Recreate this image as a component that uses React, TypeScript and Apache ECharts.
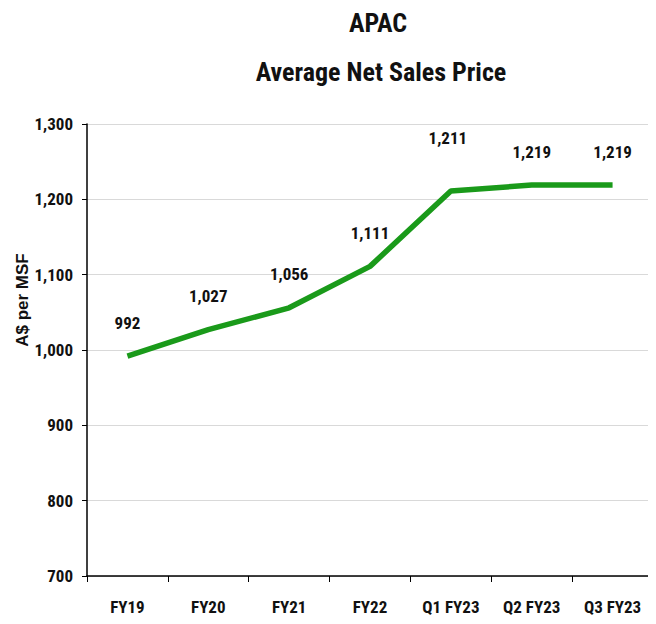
import React, { useEffect, useRef } from "react";
import * as echarts from "echarts";

const categories = ["FY19", "FY20", "FY21", "FY22", "Q1 FY23", "Q2 FY23", "Q3 FY23"];
const values = [992, 1027, 1056, 1111, 1211, 1219, 1219];
const titleLines = ["APAC", "Average Net Sales Price"];
const yAxisName = "A$ per MSF";

const FONT = "'Liberation Sans Narrow', 'Roboto Condensed', 'Open Sans', sans-serif";

export default function App() {
  const ref = useRef<HTMLDivElement>(null);
  useEffect(() => {
    if (!ref.current) return;
    const chart = echarts.init(ref.current, null, { renderer: "svg" });
    chart.setOption({
      animation: false,
      backgroundColor: "#fff",
      title: [
        {
          text: titleLines[0],
          left: 373,
          top: 5,
          textAlign: "center",
          textStyle: { fontFamily: FONT, fontWeight: "bold", fontSize: 26, color: "#111" },
        },
        {
          text: titleLines[1],
          left: 376,
          top: 54,
          textAlign: "center",
          textStyle: { fontFamily: FONT, fontWeight: "bold", fontSize: 26, color: "#111" },
        },
      ],
      graphic: [
        {
          type: "text",
          x: 22,
          y: 300,
          rotation: Math.PI / 2,
          style: {
            text: yAxisName,
            fontFamily: "'Liberation Sans', Arial, sans-serif",
            fontWeight: "bold",
            fontSize: 17,
            fill: "#111",
            align: "center",
            verticalAlign: "middle",
          },
        },
      ],
      grid: { left: 87, right: 3, top: 124, bottom: 48, containLabel: false },
      xAxis: {
        type: "category",
        data: categories,
        boundaryGap: true,
        axisLine: { lineStyle: { color: "#000", width: 1.5 } },
        axisTick: { show: true, length: 6, lineStyle: { color: "#000" } },
        axisLabel: {
          fontFamily: FONT,
          fontWeight: "bold",
          fontSize: 17,
          color: "#111",
          margin: 22,
        },
      },
      yAxis: {
        type: "value",
        min: 700,
        max: 1300,
        interval: 100,
        axisLine: { show: true, lineStyle: { color: "#000", width: 1.5 } },
        axisTick: { show: true, inside: false, length: 5, lineStyle: { color: "#000" } },
        axisLabel: {
          fontFamily: FONT,
          fontWeight: "bold",
          fontSize: 17,
          color: "#111",
          margin: 14,
          formatter: (v: number) => v.toLocaleString("en-US"),
        },
        splitLine: { show: true, lineStyle: { color: "#d9d9d9", width: 1 } },
      },
      series: [
        {
          type: "line",
          data: values.map((v, i) =>
            i === 4 ? { value: v, label: { offset: [-3, -20] } } : v
          ),
          symbol: "circle",
          showSymbol: true,
          symbolSize: 2,
          itemStyle: { color: "rgba(26,154,26,0)", borderWidth: 0 },
          lineStyle: { color: "#1a9a1a", width: 5.5 },
          label: {
            show: true,
            position: "top",
            distance: 24,
            opacity: 1,
            fontFamily: FONT,
            fontWeight: "bold",
            fontSize: 17,
            color: "#111",
            formatter: (p: any) => Number(p.value).toLocaleString("en-US"),
          },
        },
      ],
    });
    return () => chart.dispose();
  }, []);
  return (
    <div
      ref={ref}
      style={{ width: 656, height: 624, marginLeft: -8, marginTop: -8 }}
    />
  );
}
